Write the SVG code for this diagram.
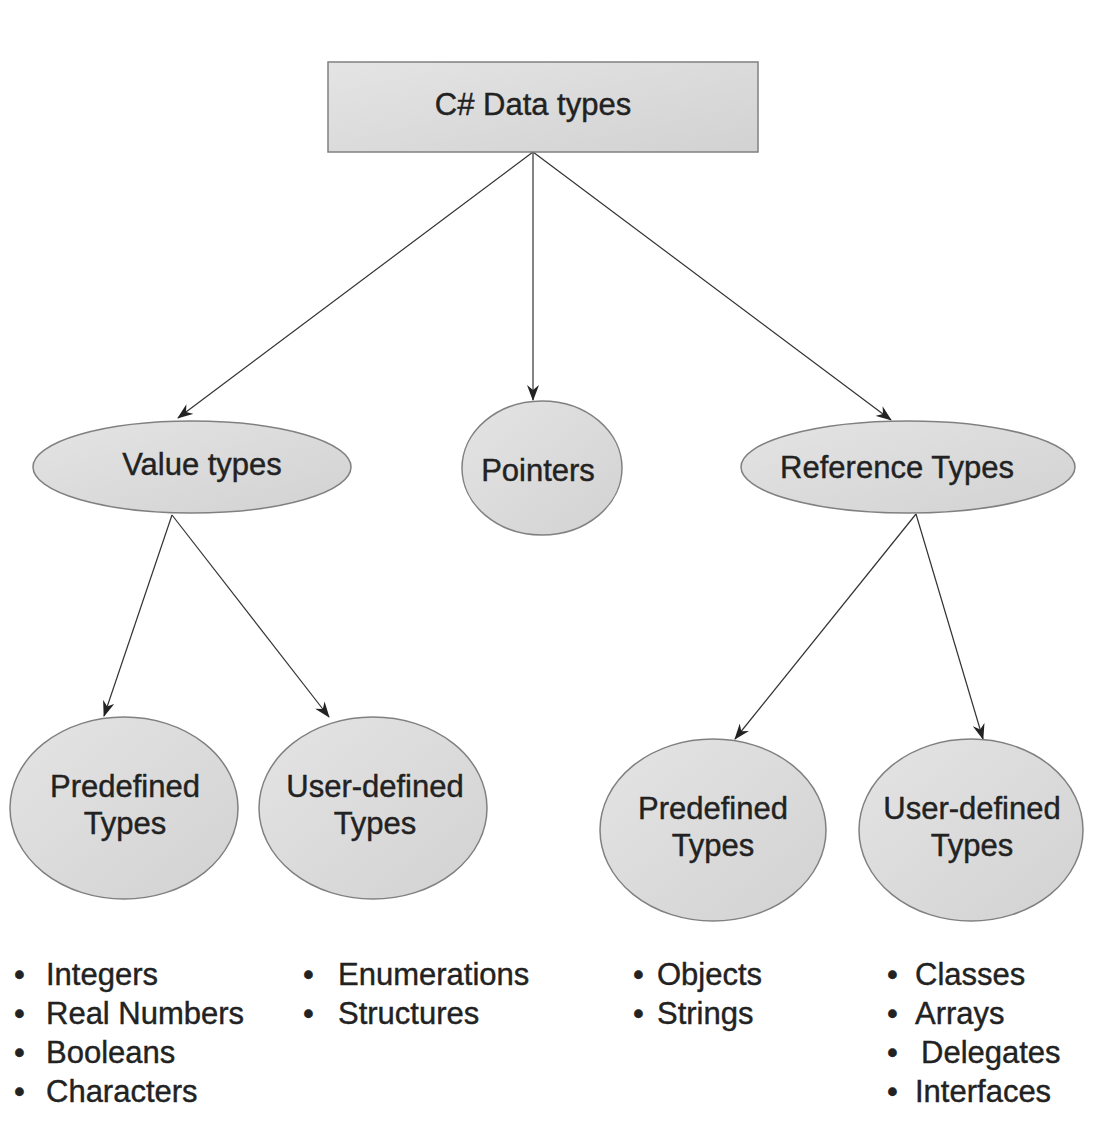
<svg xmlns="http://www.w3.org/2000/svg" width="1102" height="1124" viewBox="0 0 1102 1124">
<defs>
<linearGradient id="g" x1="0" y1="0" x2="1" y2="1">
<stop offset="0" stop-color="#e4e4e4"/>
<stop offset="1" stop-color="#d2d2d2"/>
</linearGradient>
<marker id="ah" viewBox="0 0 16 12" refX="15" refY="6" markerWidth="16" markerHeight="12" markerUnits="userSpaceOnUse" orient="auto">
<path d="M0,0 L16,6 L0,12 L5,6 z" fill="#222"/>
</marker>
</defs>
<style>
.n{fill:url(#g);stroke:#808080;stroke-width:1.5}
.t{font-family:"Liberation Sans",Arial,sans-serif;font-size:31px;fill:#222;stroke:#222;stroke-width:0.4;text-anchor:middle}
.l{font-family:"Liberation Sans",Arial,sans-serif;font-size:31px;fill:#222;stroke:#222;stroke-width:0.4}
.c{stroke:#333;stroke-width:1.2;fill:none;marker-end:url(#ah)}
</style>
<rect width="1102" height="1124" fill="#ffffff"/>
<g id="connectors">
<line class="c" x1="533" y1="152" x2="178" y2="418"/>
<line class="c" x1="533" y1="152" x2="533" y2="400"/>
<line class="c" x1="533" y1="152" x2="891" y2="420"/>
<line class="c" x1="172" y1="515" x2="104" y2="716"/>
<line class="c" x1="172" y1="515" x2="329" y2="717"/>
<line class="c" x1="916" y1="514" x2="735" y2="739"/>
<line class="c" x1="916" y1="514" x2="983" y2="739"/>
</g>
<g id="root">
<rect class="n" x="328" y="62" width="430" height="90"/>
<text class="t" x="533" y="115">C# Data types</text>
</g>
<g id="value-types">
<ellipse class="n" cx="192" cy="467" rx="159" ry="46"/>
<text class="t" x="202" y="475">Value types</text>
</g>
<g id="pointers">
<ellipse class="n" cx="542" cy="468" rx="80" ry="67"/>
<text class="t" x="538" y="481">Pointers</text>
</g>
<g id="reference-types">
<ellipse class="n" cx="908" cy="467" rx="167" ry="46"/>
<text class="t" x="897" y="478">Reference Types</text>
</g>
<g id="value-predefined">
<ellipse class="n" cx="124" cy="808" rx="114" ry="91"/>
<text class="t" x="125" y="797">Predefined</text>
<text class="t" x="125" y="834">Types</text>
</g>
<g id="value-userdefined">
<ellipse class="n" cx="373" cy="808" rx="114" ry="91"/>
<text class="t" x="375" y="797">User-defined</text>
<text class="t" x="375" y="834">Types</text>
</g>
<g id="ref-predefined">
<ellipse class="n" cx="713" cy="830" rx="113" ry="91"/>
<text class="t" x="713" y="819">Predefined</text>
<text class="t" x="713" y="856">Types</text>
</g>
<g id="ref-userdefined">
<ellipse class="n" cx="971" cy="830" rx="112" ry="91"/>
<text class="t" x="972" y="819">User-defined</text>
<text class="t" x="972" y="856">Types</text>
</g>
<g id="value-predefined-list">
<text class="l" x="14" y="985">•</text><text class="l" x="46" y="985">Integers</text>
<text class="l" x="14" y="1024">•</text><text class="l" x="46" y="1024">Real Numbers</text>
<text class="l" x="14" y="1063">•</text><text class="l" x="46" y="1063">Booleans</text>
<text class="l" x="14" y="1102">•</text><text class="l" x="46" y="1102">Characters</text>
</g>
<g id="value-userdefined-list">
<text class="l" x="303" y="985">•</text><text class="l" x="338" y="985">Enumerations</text>
<text class="l" x="303" y="1024">•</text><text class="l" x="338" y="1024">Structures</text>
</g>
<g id="ref-predefined-list">
<text class="l" x="633" y="985">•</text><text class="l" x="657" y="985">Objects</text>
<text class="l" x="633" y="1024">•</text><text class="l" x="657" y="1024">Strings</text>
</g>
<g id="ref-userdefined-list">
<text class="l" x="887" y="985">•</text><text class="l" x="915" y="985">Classes</text>
<text class="l" x="887" y="1024">•</text><text class="l" x="915" y="1024">Arrays</text>
<text class="l" x="887" y="1063">•</text><text class="l" x="921" y="1063">Delegates</text>
<text class="l" x="887" y="1102">•</text><text class="l" x="915" y="1102">Interfaces</text>
</g>
</svg>
